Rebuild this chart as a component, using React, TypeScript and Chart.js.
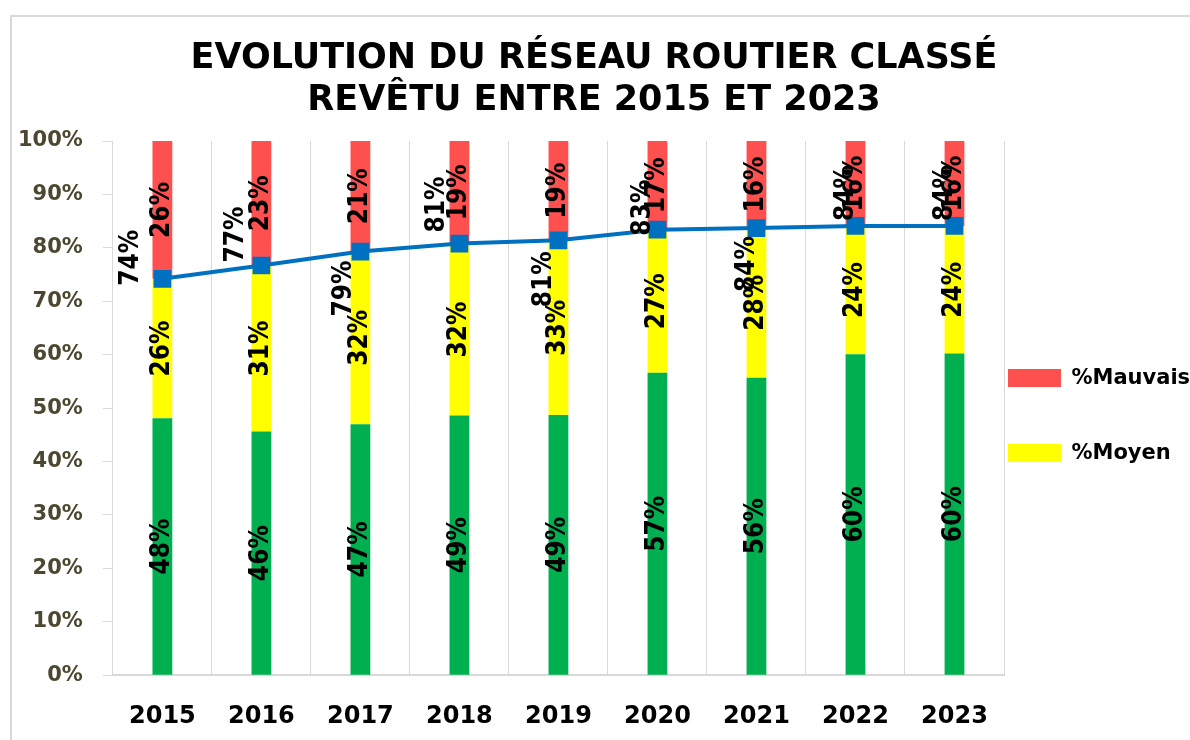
import React, { useEffect, useRef } from 'react';
import { Chart, registerables } from 'chart.js';

Chart.register(...registerables);

// ---- Data ----
const years = ['2015', '2016', '2017', '2018', '2019', '2020', '2021', '2022', '2023'];
const bon = [48.1, 45.6, 47.0, 48.6, 48.7, 56.6, 55.7, 60.1, 60.2];
const moyen = [26.1, 31.1, 32.3, 32.2, 32.7, 26.8, 28.0, 24.0, 23.9];
const mauvais = [25.8, 23.3, 20.7, 19.2, 18.6, 16.6, 16.3, 15.9, 15.9];
const bonPlusMoyen = [74.2, 76.7, 79.3, 80.8, 81.4, 83.4, 83.7, 84.1, 84.1];
const titleLines = ['EVOLUTION DU RÉSEAU ROUTIER CLASSÉ', 'REVÊTU ENTRE 2015 ET 2023'];
const Y_MIN = 0;
const Y_MAX = 100;
const Y_STEP = 10;

// ---- Styling ----
const GREEN = '#00B050';
const YELLOW = '#FFFF00';
const RED = '#FF5050';
const BLUE = '#0070C0';
const GRID = '#d9d9d9';
const BASE_FONT = '"DejaVu Sans", sans-serif';
const LABEL_FONT = 'bold 26px "DejaVu Sans Condensed", "DejaVu Sans", sans-serif';
// label offsets of the line's labels relative to each point (px)
const LINE_LABEL_OFFSETS: [number, number][] = [
  [-31, -21], [-25, -31], [-16, 37], [-22, -39], [-14, 39],
  [-14, -22], [-9, 36], [-9, -33], [-9, -33],
];

const valueLabels = {
  id: 'valueLabels',
  afterDatasetsDraw(chart: any) {
    const ctx = chart.ctx;
    ctx.save();
    ctx.font = LABEL_FONT;
    ctx.fillStyle = '#000';
    ctx.textAlign = 'center';
    ctx.textBaseline = 'middle';
    chart.data.datasets.forEach((ds: any, di: number) => {
      const meta = chart.getDatasetMeta(di);
      meta.data.forEach((el: any, i: number) => {
        const v = ds.data[i];
        const text = Math.round(v) + '%';
        let x: number;
        let y: number;
        if (ds.type === 'line') {
          const off = LINE_LABEL_OFFSETS[i] || [0, -30];
          x = el.x + off[0];
          y = el.y + off[1];
        } else {
          x = el.x;
          y = (el.y + el.base) / 2;
        }
        ctx.save();
        ctx.translate(x, y);
        ctx.rotate(-Math.PI / 2);
        ctx.fillText(text, 0, 0);
        ctx.restore();
      });
    });
    ctx.restore();
  },
};

export default function App() {
  const canvasRef = useRef<HTMLCanvasElement | null>(null);

  useEffect(() => {
    if (!canvasRef.current) return;
    Chart.defaults.font.family = BASE_FONT;
    const chart = new Chart(canvasRef.current, {
      type: 'bar',
      data: {
        labels: years,
        datasets: [
          {
            type: 'line',
            label: '%Bon + %Moyen',
            data: bonPlusMoyen,
            borderColor: BLUE,
            backgroundColor: BLUE,
            borderWidth: 4,
            pointStyle: 'rect',
            pointRadius: 12.5,
            pointBackgroundColor: BLUE,
            pointBorderColor: BLUE,
            pointBorderWidth: 0,
            tension: 0,
            stack: 'line',
            order: 0,
          } as any,
          {
            type: 'bar',
            label: '%Bon',
            data: bon,
            backgroundColor: GREEN,
            barPercentage: 0.2,
            categoryPercentage: 1,
            stack: 'etat',
            order: 1,
          },
          {
            type: 'bar',
            label: '%Moyen',
            data: moyen,
            backgroundColor: YELLOW,
            barPercentage: 0.2,
            categoryPercentage: 1,
            stack: 'etat',
            order: 1,
          },
          {
            type: 'bar',
            label: '%Mauvais',
            data: mauvais,
            backgroundColor: RED,
            barPercentage: 0.2,
            categoryPercentage: 1,
            stack: 'etat',
            order: 1,
          },
        ],
      },
      options: {
        responsive: false,
        animation: false,
        layout: { padding: { left: -2, right: 0, top: 0, bottom: -18 } },
        plugins: {
          tooltip: { enabled: false },
          title: {
            display: true,
            text: titleLines,
            color: '#000',
            font: { size: 35, weight: 'bold', family: BASE_FONT, lineHeight: 1.2 },
            padding: { top: 38, bottom: 19 },
          },
          legend: {
            display: true,
            position: 'right',
            fullSize: false,
            maxWidth: 186,
            title: {
              display: true,
              text: ' ',
              padding: 0,
              font: { size: 12.5, lineHeight: 1.2 },
            },
            labels: {
              boxWidth: 53,
              boxHeight: 18,
              padding: 4,
              color: '#000',
              font: { size: 21, weight: 'bold', family: BASE_FONT },
              generateLabels: (ch: any) => {
                const dsets = ch.data.datasets;
                const item = (idx: number) => ({
                  text: dsets[idx].label,
                  fillStyle: dsets[idx].backgroundColor,
                  strokeStyle: dsets[idx].backgroundColor,
                  lineWidth: 0,
                  hidden: false,
                  datasetIndex: idx,
                  fontColor: '#000',
                });
                const spacer = () => ({
                  text: '',
                  fillStyle: 'rgba(0,0,0,0)',
                  strokeStyle: 'rgba(0,0,0,0)',
                  lineWidth: 0,
                  hidden: false,
                });
                return [item(3), spacer(), spacer(), item(2)];
              },
            },
            onClick: () => {},
          },
        },
        scales: {
          x: {
            stacked: true,
            grid: { offset: true, drawTicks: false, color: GRID, lineWidth: 1 },
            border: { color: GRID, width: 2 },
            ticks: {
              color: '#000',
              padding: 27,
              font: { size: 24, weight: 'bold', family: BASE_FONT },
            },
          },
          y: {
            stacked: true,
            min: Y_MIN,
            max: Y_MAX,
            grid: { drawOnChartArea: false, drawTicks: true, tickLength: 10, color: GRID },
            border: { color: GRID, width: 1 },
            ticks: {
              stepSize: Y_STEP,
              color: '#4b4730',
              padding: 20,
              font: { size: 21, weight: 'bold', family: BASE_FONT },
              callback: (v: any) => v + '%',
            },
          },
        },
      },
      plugins: [valueLabels],
    });
    return () => chart.destroy();
  }, []);

  return (
    <div
      style={{
        position: 'fixed',
        left: 0,
        top: 0,
        width: 1190,
        height: 740,
        background: '#fff',
        overflow: 'hidden',
      }}
    >
      <div
        style={{
          position: 'absolute',
          left: 10,
          top: 15,
          width: 1300,
          height: 900,
          border: '2px solid #d9d9d9',
          boxSizing: 'border-box',
        }}
      />
      <canvas
        ref={canvasRef}
        width={1190}
        height={740}
        style={{ position: 'absolute', left: 0, top: 0, width: 1190, height: 740 }}
      />
    </div>
  );
}
